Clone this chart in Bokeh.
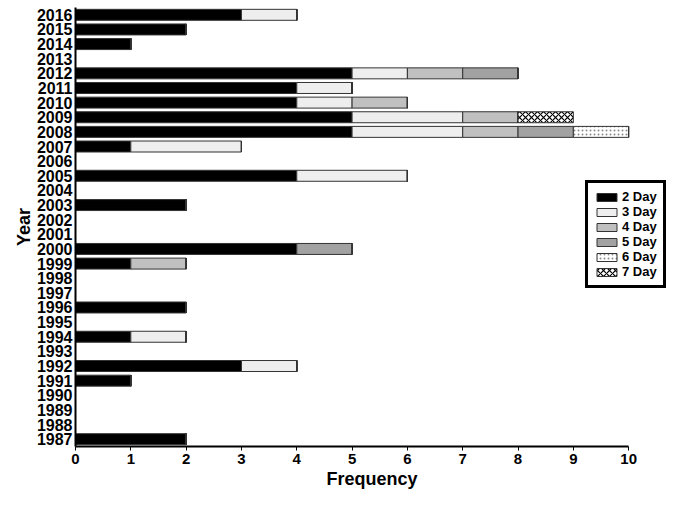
from bokeh.plotting import figure
from bokeh.models import ColumnDataSource, Range1d, FactorRange, Legend, LegendItem, FixedTicker
from bokeh.transform import stack
from bokeh.embed import file_html
from bokeh.resources import INLINE

years = [str(y) for y in range(1987, 2017)]
#            1987 .................................................................... 2016
day2 = [2, 0, 0, 0, 1, 3, 0, 1, 0, 2, 0, 0, 1, 4, 0, 0, 2, 0, 4, 0, 1, 5, 5, 4, 4, 5, 0, 1, 2, 3]
day3 = [0, 0, 0, 0, 0, 1, 0, 1, 0, 0, 0, 0, 0, 0, 0, 0, 0, 0, 2, 0, 2, 2, 2, 1, 1, 1, 0, 0, 0, 1]
day4 = [0, 0, 0, 0, 0, 0, 0, 0, 0, 0, 0, 0, 1, 0, 0, 0, 0, 0, 0, 0, 0, 1, 1, 1, 0, 1, 0, 0, 0, 0]
day5 = [0, 0, 0, 0, 0, 0, 0, 0, 0, 0, 0, 0, 0, 1, 0, 0, 0, 0, 0, 0, 0, 1, 0, 0, 0, 1, 0, 0, 0, 0]
day6 = [0, 0, 0, 0, 0, 0, 0, 0, 0, 0, 0, 0, 0, 0, 0, 0, 0, 0, 0, 0, 0, 1, 0, 0, 0, 0, 0, 0, 0, 0]
day7 = [0, 0, 0, 0, 0, 0, 0, 0, 0, 0, 0, 0, 0, 0, 0, 0, 0, 0, 0, 0, 0, 0, 1, 0, 0, 0, 0, 0, 0, 0]

series_keys = ["d2", "d3", "d4", "d5", "d6", "d7"]
series_labels = ["2 Day", "3 Day", "4 Day", "5 Day", "6 Day", "7 Day"]
x_ticks = [0, 1, 2, 3, 4, 5, 6, 7, 8, 9, 10]

fills = ["#000000", "#eeeeee", "#c0c0c0", "#a2a2a2", "#ffffff", "#ffffff"]
hatches = [None, None, None, None, "dot", "diagonal_cross"]
hatch_colors = ["black", "black", "black", "black", "#8a8a8a", "#000000"]
hatch_scales = [12, 12, 12, 12, 4, 6]

src = ColumnDataSource(dict(year=years, d2=day2, d3=day3, d4=day4, d5=day5, d6=day6, d7=day7))

FONT = "Liberation Sans"

p = figure(width=669, height=491, output_backend="svg", toolbar_location=None,
           y_range=FactorRange(*years), x_range=Range1d(0, 10.72),
           min_border_left=75, min_border_right=1, min_border_top=7, min_border_bottom=10)
p.outline_line_color = None
p.xgrid.grid_line_color = None
p.ygrid.grid_line_color = None
p.y_range.range_padding = 0

items = []
for i, key in enumerate(series_keys):
    left = 0 if i == 0 else stack(*series_keys[:i])
    kw = {}
    if hatches[i]:
        kw = dict(hatch_pattern=hatches[i], hatch_color=hatch_colors[i],
                  hatch_scale=hatch_scales[i], hatch_weight=1.2)
    r = p.hbar(y="year", left=left, right=stack(*series_keys[:i + 1]), height=0.75,
               source=src, fill_color=fills[i], line_color="#333333", line_width=1, **kw)
    items.append(LegendItem(label=series_labels[i], renderers=[r]))

legend = Legend(items=items, location=(510, 158))
legend.border_line_color = "black"
legend.border_line_alpha = 1
legend.border_line_width = 3
legend.background_fill_color = "white"
legend.background_fill_alpha = 1
legend.padding = 6
legend.margin = 0
legend.spacing = 0
legend.glyph_width = 25
legend.glyph_height = 10
legend.label_height = 12
legend.label_standoff = 3
legend.label_text_font = FONT
legend.label_text_font_style = "bold"
legend.label_text_font_size = "13px"
legend.label_text_color = "black"
legend.label_text_baseline = "middle"
legend.label_text_line_height = 0.9
p.add_layout(legend, "center")

# x axis
xa = p.xaxis[0]
xa.ticker = FixedTicker(ticks=x_ticks)
xa.bounds = (0, 10)
xa.axis_label = "Frequency"
xa.axis_label_text_font = FONT
xa.axis_label_text_font_style = "bold"
xa.axis_label_text_font_size = "18px"
xa.axis_label_text_color = "black"
xa.axis_label_standoff = 2
xa.major_label_text_font = FONT
xa.major_label_text_font_style = "bold"
xa.major_label_text_font_size = "15px"
xa.major_label_text_color = "black"
xa.major_label_standoff = 3
xa.major_tick_out = 4
xa.major_tick_in = 0
xa.minor_tick_out = 0
xa.minor_tick_in = 0
xa.axis_line_width = 2
xa.axis_line_color = "black"
xa.major_tick_line_color = "black"

# y axis
ya = p.yaxis[0]
ya.axis_label = "Year"
ya.axis_label_text_font = FONT
ya.axis_label_text_font_style = "bold"
ya.axis_label_text_font_size = "18px"
ya.axis_label_text_color = "black"
ya.axis_label_standoff = 0
ya.major_label_text_font = FONT
ya.major_label_text_font_style = "bold"
ya.major_label_text_font_size = "16px"
ya.major_label_text_color = "black"
ya.major_label_standoff = 3
ya.major_tick_out = 0
ya.major_tick_in = 0
ya.axis_line_width = 2
ya.axis_line_color = "black"

open("out.html", "w").write(file_html(p, INLINE))
